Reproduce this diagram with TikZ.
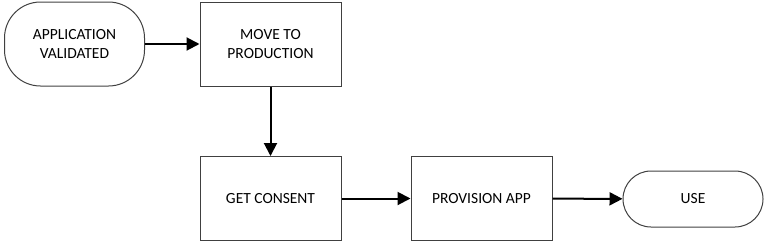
\documentclass[tikz,border=0pt]{standalone}
\usepackage{fontspec}
\setmainfont{Carlito}
\usepackage{tikz}
\usetikzlibrary{arrows.meta,positioning}

\begin{document}
\begin{tikzpicture}[
  x=1pt, y=-1pt,
  font=\fontsize{15.5}{18.5}\selectfont,
  block/.style={draw=black!75, line width=1pt, align=center, minimum width=141pt, minimum height=84pt, inner sep=0pt},
  terminal/.style={draw=black!75, line width=1pt, align=center, minimum width=140pt, inner sep=0pt},
  wire/.style={-{Triangle[length=13pt,width=13pt]}, line width=2pt}
]
\useasboundingbox (0,0) rectangle (767,242);

\node[terminal, rounded corners=36pt, minimum height=84pt] (validated) at (74.5,44) {APPLICATION\\VALIDATED};
\node[block] (move) at (270.5,44) {MOVE TO\\PRODUCTION};
\node[block] (consent) at (270.5,198.5) {GET CONSENT};
\node[block] (provision) at (481.5,198.5) {PROVISION APP};
\node[terminal, rounded corners=28pt, minimum height=56pt] (use) at (693,199) {USE};

\draw[wire] (validated) -- (move);
\draw[wire] (move) -- (consent);
\draw[wire] (consent) -- (provision);
\draw[wire] (provision) -- (use);

\end{tikzpicture}
\end{document}
